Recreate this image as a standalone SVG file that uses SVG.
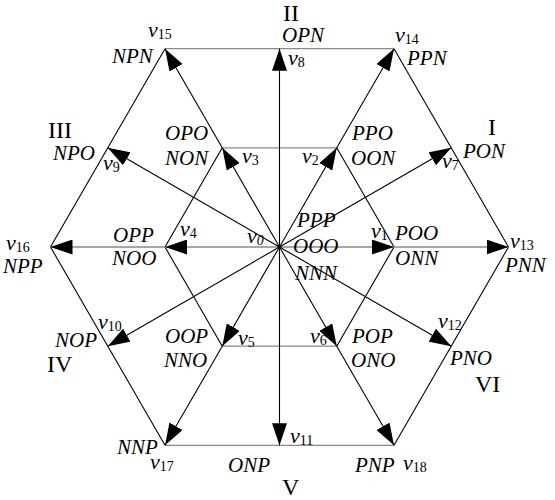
<svg xmlns="http://www.w3.org/2000/svg" width="555" height="500" viewBox="0 0 555 500">
<style>
.ln{stroke:#000;stroke-width:1.1;fill:none}
.hl{stroke:#8a8a8a;stroke-width:1.3;fill:none}
.ar{marker-end:url(#ah)}
text{font-family:"Liberation Serif","Times New Roman",serif;fill:#000}
.st{font-style:italic;font-size:21px}
.rm{font-size:24px}
.vl{font-style:italic;font-size:22px}
.sb{font-style:normal;font-size:14px}
</style>
<defs>
<marker id="ah" markerWidth="22" markerHeight="15" refX="22" refY="7.5" orient="auto" markerUnits="userSpaceOnUse">
<path d="M0,0 L22,7.5 L0,15 z" fill="#000"/>
</marker>
</defs>
<rect width="555" height="500" fill="#fff"/>
<g id="connectors">
<line class="hl" x1="165" y1="48.7" x2="394" y2="48.7"/>
<line class="ln" x1="394" y1="48.7" x2="508.5" y2="247"/>
<line class="ln" x1="508.5" y1="247" x2="394" y2="445.3"/>
<line class="hl" x1="394" y1="445.3" x2="165" y2="445.3"/>
<line class="ln" x1="165" y1="445.3" x2="50.5" y2="247"/>
<line class="ln" x1="50.5" y1="247" x2="165" y2="48.7"/>
<line class="hl" x1="222.25" y1="147.8" x2="336.75" y2="147.8"/>
<line class="ln" x1="336.75" y1="147.8" x2="394" y2="247"/>
<line class="ln" x1="394" y1="247" x2="336.75" y2="346.2"/>
<line class="hl" x1="336.75" y1="346.2" x2="222.25" y2="346.2"/>
<line class="ln" x1="222.25" y1="346.2" x2="165" y2="247"/>
<line class="ln" x1="165" y1="247" x2="222.25" y2="147.8"/>
<line class="hl ar" x1="279.5" y1="247" x2="394" y2="247"/>
<line class="hl ar" x1="394" y1="247" x2="508.5" y2="247"/>
<line class="hl ar" x1="279.5" y1="247" x2="165" y2="247"/>
<line class="hl ar" x1="165" y1="247" x2="50.5" y2="247"/>
<line class="ln ar" x1="279.5" y1="247" x2="279.5" y2="48.7"/>
<line class="ln ar" x1="279.5" y1="247" x2="279.5" y2="445.3"/>
<line class="ln ar" x1="279.5" y1="247" x2="336.75" y2="147.8"/>
<line class="ln ar" x1="336.75" y1="147.8" x2="394" y2="48.7"/>
<line class="ln ar" x1="279.5" y1="247" x2="222.25" y2="147.8"/>
<line class="ln ar" x1="222.25" y1="147.8" x2="165" y2="48.7"/>
<line class="ln ar" x1="279.5" y1="247" x2="222.25" y2="346.2"/>
<line class="ln ar" x1="222.25" y1="346.2" x2="165" y2="445.3"/>
<line class="ln ar" x1="279.5" y1="247" x2="336.75" y2="346.2"/>
<line class="ln ar" x1="336.75" y1="346.2" x2="394" y2="445.3"/>
<line class="ln ar" x1="279.5" y1="247" x2="451.25" y2="147.8"/>
<line class="ln ar" x1="279.5" y1="247" x2="107.75" y2="147.8"/>
<line class="ln ar" x1="279.5" y1="247" x2="107.75" y2="346.2"/>
<line class="ln ar" x1="279.5" y1="247" x2="451.25" y2="346.2"/>
</g>
<g id="sectors">
<text class="rm" x="283" y="21">II</text>
<text class="rm" x="48" y="138">III</text>
<text class="rm" x="488" y="135">I</text>
<text class="rm" x="47" y="372">IV</text>
<text class="rm" x="282" y="495">V</text>
<text class="rm" x="475" y="392">VI</text>
</g>
<g id="v0"><circle cx="279.5" cy="247" r="2" fill="#000"/><text class="vl" x="247" y="243">v<tspan class="sb" style="font-style:italic" dy="2">0</tspan></text>
<text class="st" x="297" y="227">PPP</text><text class="st" x="293" y="253">OOO</text><text class="st" x="295" y="280">NNN</text></g>
<g id="v1"><text class="vl" x="371" y="238">v<tspan class="sb" dy="2">1</tspan></text><text class="st" x="395" y="240">POO</text><text class="st" x="395" y="265">ONN</text></g>
<g id="v2"><text class="vl" x="302" y="163">v<tspan class="sb" dy="2">2</tspan></text><text class="st" x="352" y="140">PPO</text><text class="st" x="351" y="165">OON</text></g>
<g id="v3"><text class="vl" x="242" y="163">v<tspan class="sb" dy="2">3</tspan></text><text class="st" x="165" y="140">OPO</text><text class="st" x="165" y="165">NON</text></g>
<g id="v4"><text class="vl" x="180" y="236">v<tspan class="sb" dy="2">4</tspan></text><text class="st" x="113" y="242">OPP</text><text class="st" x="112" y="265">NOO</text></g>
<g id="v5"><text class="vl" x="238" y="345">v<tspan class="sb" dy="2">5</tspan></text><text class="st" x="165" y="343">OOP</text><text class="st" x="164" y="367">NNO</text></g>
<g id="v6"><text class="vl" x="310" y="343">v<tspan class="sb" dy="2">6</tspan></text><text class="st" x="352" y="343">POP</text><text class="st" x="351" y="367">ONO</text></g>
<g id="v7"><text class="vl" x="442" y="168">v<tspan class="sb" dy="2">7</tspan></text><text class="st" x="463" y="158">PON</text></g>
<g id="v8"><text class="vl" x="288" y="65">v<tspan class="sb" dy="2">8</tspan></text><text class="st" x="282" y="42">OPN</text></g>
<g id="v9"><text class="vl" x="103" y="170">v<tspan class="sb" dy="2">9</tspan></text><text class="st" x="53" y="160">NPO</text></g>
<g id="v10"><text class="vl" x="98" y="329">v<tspan class="sb" dy="2">10</tspan></text><text class="st" x="55" y="347">NOP</text></g>
<g id="v11"><text class="vl" x="290" y="443">v<tspan class="sb" dy="2">11</tspan></text><text class="st" x="228" y="472">ONP</text></g>
<g id="v12"><text class="vl" x="438" y="328">v<tspan class="sb" dy="2">12</tspan></text><text class="st" x="450" y="365">PNO</text></g>
<g id="v13"><text class="vl" x="510" y="248">v<tspan class="sb" dy="2">13</tspan></text><text class="st" x="505" y="272">PNN</text></g>
<g id="v14"><text class="vl" x="395" y="42">v<tspan class="sb" dy="2">14</tspan></text><text class="st" x="407" y="65">PPN</text></g>
<g id="v15"><text class="vl" x="148" y="37">v<tspan class="sb" dy="2">15</tspan></text><text class="st" x="112" y="63">NPN</text></g>
<g id="v16"><text class="vl" x="6" y="250">v<tspan class="sb" dy="2">16</tspan></text><text class="st" x="3" y="273">NPP</text></g>
<g id="v17"><text class="vl" x="150" y="469">v<tspan class="sb" dy="2">17</tspan></text><text class="st" x="117" y="454">NNP</text></g>
<g id="v18"><text class="vl" x="403" y="470">v<tspan class="sb" dy="2">18</tspan></text><text class="st" x="355" y="472">PNP</text></g>
</svg>
